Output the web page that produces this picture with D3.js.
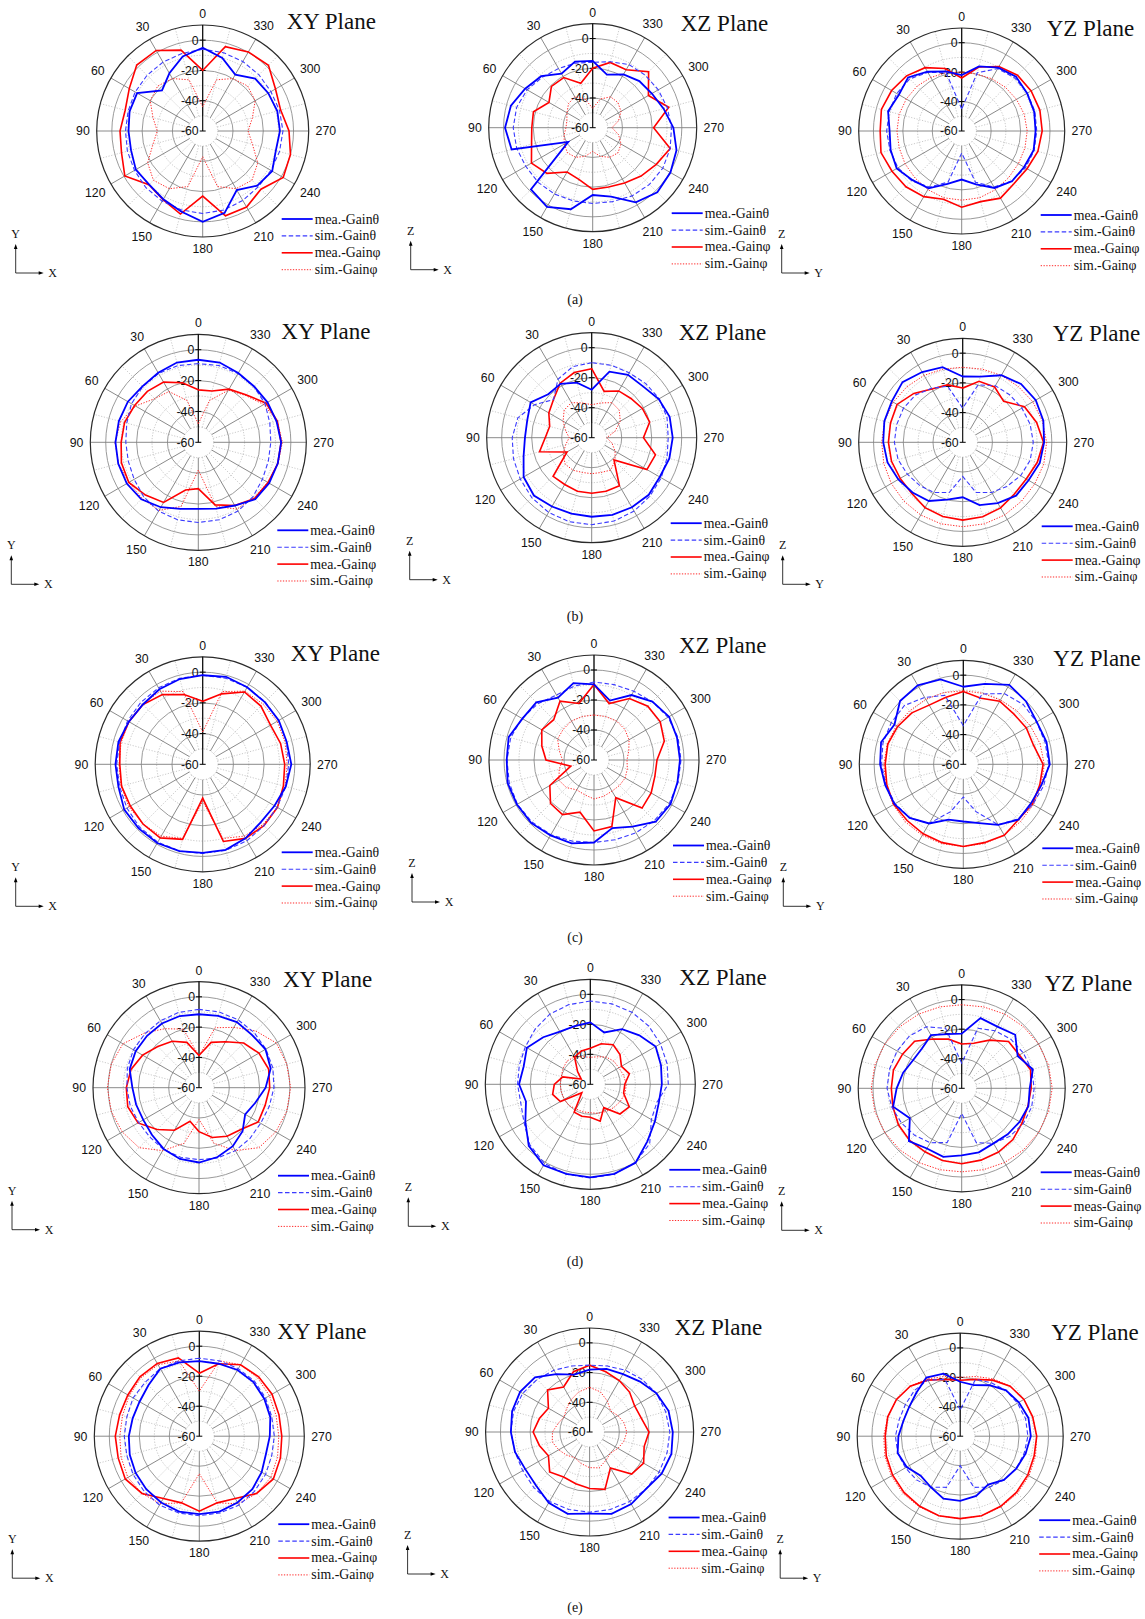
<!DOCTYPE html>
<html>
<head>
<meta charset="utf-8">
<script src="https://cdn.jsdelivr.net/npm/d3@7"></script>
<style>
  body { margin: 0; background: #fff; }
  svg { display: block; }
</style>
</head>
<body>
<svg id="fig" width="1145" height="1619"></svg>
<script>
// ---------- shared axis definitions ----------
const angles = d3.range(0, 360, 15);          // sampling angles (deg) for every series
const angleTicks = d3.range(0, 360, 30);      // labelled angular ticks
const radialTicks = [0, -20, -40, -60];       // labelled gain ticks (dB)
const legendLabels = ["mea.-Gainθ", "sim.-Gainθ", "mea.-Gainφ", "sim.-Gainφ"];
const legendLabelsMeas = ["meas-Gainθ", "sim-Gainθ", "meas-Gainφ", "sim-Gainφ"];
const subLabels = ["(a)", "(b)", "(c)", "(d)", "(e)"];

// ---------- (a) ----------
const aXY_meaTheta = [-5, -9, -16, -22, -10, -10, -11, -11, -9, -10, -8, -5, 0, -4, -15, -9, -7, -10, -9, -9, -10, -11, -17, -10];
const aXY_simTheta = [-6, -7, -7.5, -8, -8.5, -9, -9, -8.5, -8, -7, -6.5, -6, -5.5, -6, -7, -8, -8, -7.5, -7, -7.5, -8, -7.5, -7, -6.5];
const aXY_meaPhi   = [-20, -4.7, 1.4, 1.6, -4, -7, -5.4, -4.5, -0.6, -9.8, -7.6, -3.2, -17, -2, -2, -5.6, 1.4, 0, -3, -6.7, -4.5, 1.4, 0.3, -2.3];
const aXY_simPhi   = [-44, -25, -20, -18, -20, -26, -30, -26, -18, -14, -16, -22, -43, -22, -16, -14, -18, -26, -30, -26, -20, -18, -20, -25];

const aXZ_meaTheta = [-15, -14, -18, -11, -7.5, -3, -1, -3.5, -41, -1.2, 1.5, -3.2, -14.7, -12, -2, 1.5, 0.4, -1.6, -5.7, -10.6, -14, -15.6, -18.5, -23];
const aXZ_simTheta = [-16, -15, -14, -12, -9, -7, -6.5, -7, -8, -8, -8.5, -9, -9, -8.5, -7, -6, -5.5, -6, -7, -8, -9, -10, -11, -14];
const aXZ_meaPhi   = [-20, -29, -21, -20.7, -26, -18.7, -19, -17.4, -12.4, -16.5, -25.6, -24, -18.5, -18.7, -17, -14, -10.6, -6, -19, -7, -16.7, -6.8, -15, -14.5];
const aXZ_simPhi   = [-47, -40, -36, -37, -40, -42, -42, -40, -38, -36, -37, -40, -44, -40, -37, -36, -38, -42, -47, -42, -38, -36, -36, -40];

const aYZ_meaTheta = [-22, -18, -13.5, -8.5, -10.7, -8.2, -11, -10, -9, -12.8, -15, -22.8, -27, -22.4, -15.3, -11.7, -11, -9.4, -9.8, -9, -8.7, -7.8, -10.3, -14.6];
const aYZ_simTheta = [-45, -19, -14, -10, -9, -9, -9, -9.5, -10, -12, -16, -24, -45, -24, -16, -12, -10, -9, -9, -8.5, -8.5, -9, -11, -19];
const aYZ_meaPhi   = [-24, -16, -10.3, -7, -5, -3.5, -4.6, -3.2, -5.3, -6.4, -8.5, -12, -8.2, -10.3, -7.3, -9.6, -8.7, -6.4, -5.3, -5, -5.5, -6.4, -9.4, -15];
const aYZ_simPhi   = [-20, -19, -18, -17, -16.5, -16, -16, -16, -15.5, -15, -14, -13, -13, -13, -14, -15, -15.5, -15.5, -15.5, -16, -17, -18, -19, -20];

// ---------- (b) ----------
const bXY_meaTheta = [-6.5, -6.5, -8, -8.8, -7.3, -6.7, -6.3, -6.3, -6.5, -7.8, -11.4, -15.3, -16.8, -15.5, -12.7, -7.8, -7, -6.7, -6.3, -7.5, -8.2, -8.8, -8.2, -6.5];
const bXY_simTheta = [-9, -8.5, -8.5, -9, -10, -12, -13, -13, -12, -10, -8.5, -8, -8, -8, -8.5, -10, -12, -13, -13, -12, -10, -9, -8.5, -8.5];
const bXY_meaPhi   = [-26, -20, -15, -13.3, -12.3, -10.5, -10, -8.4, -8, -11.6, -15, -28, -30, -18, -12.7, -8.4, -7.8, -6.7, -6.3, -7, -9.3, -16.4, -20.2, -25.6];
const bXY_simPhi   = [-48, -32, -22, -20, -13, -8, -6, -6.5, -8, -8.5, -9, -17, -42, -17, -10, -9, -8, -6.5, -5.5, -7, -11, -17, -21, -32];

const bXZ_meaTheta = [-28, -22, -18.5, -19, -13, -15.5, -15.5, -13, -7.6, -5.5, -7, -7.6, -7.3, -6.7, -6.4, -6.2, -7.6, -6.4, -6, -6.2, -8.4, -11.6, -11.6, -14.4];
const bXZ_simTheta = [-10, -11, -15, -24, -16, -9, -7, -6, -5, -3.5, -2.5, -2, -2, -2.5, -3.5, -5, -6.5, -8, -9, -8, -8, -9, -10, -10];
const bXZ_meaPhi   = [-14, -15, -18, -24, -27, -31, -29, -24, -41, -23.6, -24, -23, -23, -23, -23, -39, -17.5, -16, -25.5, -20, -21, -23, -24, -28];
const bXZ_simPhi   = [-38, -36, -33, -34, -38, -42, -45, -42, -38, -35, -35, -36, -36, -36, -35, -38, -42, -46, -50, -44, -38, -34, -33, -36];

const bYZ_meaTheta = [-15.7, -7.6, -5.4, -2.7, -4.9, -5.4, -6.5, -7.6, -10, -12.2, -14.4, -20, -23, -16.2, -12.8, -9.2, -8.8, -6.3, -5.2, -3.8, -3.2, -4.5, -7.9, -14.2];
const bYZ_simTheta = [-37, -21, -18, -15, -14, -14, -14, -15, -17, -19, -21, -25, -37, -25, -21, -18, -15, -13, -12.5, -13, -14, -15, -16, -20];
const bYZ_meaPhi   = [-23.5, -20, -18.5, -13.5, -9, -9.7, -10, -10.4, -11.4, -11.4, -9.2, -8.3, -7.6, -8.1, -9, -10.8, -10.6, -8, -5.6, -8.5, -12, -21, -17, -17.5];
const bYZ_simPhi   = [-9.5, -9, -8, -7, -6, -5.5, -5.5, -5, -4.5, -4, -3.5, -3.2, -3.2, -3.2, -3.5, -4, -4, -3.5, -3.5, -4.5, -5.5, -7, -8, -9];

// ---------- (c) ----------
const cXY_meaTheta = [-2, -2.5, -3.6, -4.9, -4.5, -3.2, -3.2, -3.2, -1, -1, -0.8, -1.5, -2.3, -2.3, -4.3, -6.6, -6, -4, -2.3, -3.4, -2.8, -2.8, -2.1, -1];
const cXY_simTheta = [-2, -2, -2.5, -3, -3.5, -4, -4, -4, -3, -2, -1.5, -1.5, -2, -2, -2.5, -3.5, -4, -4, -4, -3.5, -3, -2.5, -2, -2];
const cXY_meaPhi   = [-19, -13, -7.5, -5, -4.5, -4.3, -6, -5.3, -5.6, -5, -4.7, -9.4, -38, -8, -4.3, -3.6, -3.8, -5.6, -6.6, -7.5, -9, -6.4, -5.6, -12.5];
const cXY_simPhi   = [-39, -11, -5, -4.5, -4.5, -5, -5.5, -5, -4.5, -5, -6, -10, -36, -10, -6, -4.5, -4, -4.5, -5, -4.5, -4, -4.5, -5, -11];

const cXZ_meaTheta = [-9.6, -7, -12, -5.6, -4.9, -1.1, -1.8, -0.4, -0.7, -0.7, -2, -2.4, -5, -13, -8.7, -1.8, -1.1, -2.4, -2.7, -2.7, -2.2, -5, -10, -19];
const cXZ_simTheta = [-8, -9, -10, -7, -4.5, -2.5, -2, -1.5, -1, -1.5, -2.5, -4, -5, -5, -4, -3, -2, -2, -2, -2, -3, -5, -7, -8];
const cXZ_meaPhi   = [-9.6, -21, -14.7, -22, -19.8, -24, -28, -44, -26, -19, -18, -24, -12.7, -14, -31, -14.7, -16, -18, -18, -11.5, -9, -9.3, -12.7, -21];
const cXZ_simPhi   = [-30, -30, -30, -31, -32, -36, -39, -36, -33, -34, -37, -36, -34, -35, -36, -36, -36, -37, -38, -36, -33, -31, -30, -30];

const cYZ_meaTheta = [-7.8, -0.9, 1.3, 0.2, -6.5, -2.7, -4, -5.6, -6.5, -9, -14, -21.5, -21.5, -19, -13, -7.4, -7.4, -5.6, -1.8, -2, -2.9, -0.2, 1.8, -4];
const cYZ_simTheta = [-34, -12, -8, -4, -4, -4, -5, -6, -7, -9, -14, -27, -38, -27, -13, -8, -6, -4, -2.5, -3, -3, -3, -5, -11];
const cYZ_meaPhi   = [-11, -13.5, -14, -11, -9, -7.4, -7.4, -6.7, -6, -6.5, -6, -5.4, -4.7, -5.4, -4.9, -7.4, -6.3, -6.7, -6.3, -11, -11, -12, -11, -14];
const cYZ_simPhi   = [-10.5, -10, -9.5, -9, -8, -7, -6.5, -6, -5.5, -5, -4.8, -4.7, -4.7, -4.8, -5, -5.5, -5.5, -5.5, -5.5, -6.5, -8, -9, -10, -10.5];

// ---------- (d) ----------
const dXY_meaTheta = [-11.5, -11, -11, -11.5, -11.7, -12.6, -16, -17, -17.5, -16, -13.3, -11.3, -10.6, -12.6, -15.4, -19.3, -24.8, -21.5, -16, -11, -9.3, -10.6, -10, -10.9];
const dXY_simTheta = [-8.3, -8.5, -9, -9.5, -10, -11, -12.4, -13, -14, -14, -13, -12.5, -12.5, -12, -12, -12.5, -13, -12, -10.5, -9.5, -9, -8.5, -8.3, -8.2];
const dXY_meaPhi   = [-38.7, -29, -24.6, -21.5, -17, -13.5, -12, -11.3, -13.5, -20.9, -27.6, -37, -31, -26, -23, -20.9, -14.8, -14.8, -13.3, -12.4, -14.3, -18.3, -25, -29];
const dXY_simPhi   = [-39, -20, -15, -9, -2, 0, 0.5, 0, -1.5, -4, -12, -22, -39, -22, -12, -4, -1.5, 0, 0.5, 0, -1, -7, -14, -19];

const dXZ_meaTheta = [-18.7, -19.8, -19.5, -15.6, -11.2, -14, -12.5, -15.6, -10, -2, 2.4, 1.8, 2, 1.8, 0.4, -6.2, -10.3, -12.7, -12.3, -11.2, -9.7, -13.8, -17.6, -24.2];
const dXZ_simTheta = [-4.5, -5, -6, -8, -10, -11, -11.5, -12, -9, -3, 1, 2, 2.5, 2, 0, -4, -13, -14, -8, -7, -6, -5, -4.5, -4.5];
const dXZ_meaPhi   = [-36, -37, -39, -48, -53, -41, -36, -34, -37, -52, -38.5, -38, -38, -34.5, -42, -32, -30, -37, -37, -33, -36, -32, -29.5, -32];
const dXZ_simPhi   = [-42, -41, -39, -38, -39, -40, -40, -40, -40, -40, -41, -41, -41, -40, -39, -38, -37, -36, -36, -37, -38, -38, -39, -41];

const dYZ_meaTheta = [-23, -22, -18.5, -22, -22, -19, -16, -12, -19.5, -9.5, -13, -12, -14.7, -15.2, -17, -16, -14.7, -13.3, -14, -10.2, -16.3, -8.8, -11.8, -10.9];
const dYZ_simTheta = [-43, -18, -12, -10, -9.5, -9.5, -9.5, -11, -13, -15, -17.5, -22, -43, -22, -17, -14, -12, -11, -11, -11, -12, -13, -15, -18];
const dYZ_meaPhi   = [-30, -25.6, -21.5, -15, -13.8, -12.2, -12.4, -11.8, -10.6, -10.2, -10.4, -9.5, -9, -9.7, -10.2, -11, -12.9, -13.6, -13, -11.8, -15, -15.2, -22.4, -28.5];
const dYZ_simPhi   = [-3.5, -3, -2, -1, 0, 0.8, 1.2, 0.8, 0, -1, -2, -3, -3.5, -3, -2, -1, 0, 0.8, 1.2, 0.8, 0, -1, -2, -3];

// ---------- (e) ----------
const eXY_meaTheta = [-10, -9, -8, -12, -14, -14, -13, -12, -11, -10, -9, -8, -8, -8, -9, -10, -12, -14, -13, -11, -10, -9, -9, -10];
const eXY_simTheta = [-8, -8, -8, -9, -9, -10, -10, -10, -9, -8, -7, -7, -7, -7, -7, -8, -9, -10, -10, -10, -9, -8, -8, -8];
const eXY_meaPhi   = [-18, -6, -4, -4, -5, -5, -4, -4, -3, -6, -12, -14, -10, -14, -12, -6, -3, -4, -5, -5, -4, -4, -5, -10];
const eXY_simPhi   = [-30, -8, -5, -5, -6, -7, -7, -6, -5, -6, -8, -14, -35, -14, -8, -6, -5, -6, -7, -7, -6, -5, -5, -8];

const eXZ_meaTheta = [-18, -20, -15, -8, -6, -6, -7, -8, -10, -9, -5, -3, -5, -3, -4, -6, -4, -3, -4, -5, -8, -12, -15, -16];
const eXZ_simTheta = [-15, -14, -12, -10, -8, -7, -7, -8, -8, -7, -6, -6, -6, -6, -6, -6, -6, -6, -6, -7, -8, -10, -12, -14];
const eXZ_meaPhi   = [-15, -18, -25, -20, -28, -25, -22, -25, -28, -22, -25, -24, -22, -20, -32, -20, -18, -22, -20, -24, -25, -22, -20, -18];
const eXZ_simPhi   = [-30, -32, -35, -38, -40, -38, -35, -34, -36, -38, -40, -38, -36, -35, -38, -40, -38, -36, -35, -36, -38, -40, -36, -32];

const eYZ_meaTheta = [-23, -16, -14, -18, -20, -20, -18, -16, -18, -22, -20, -16, -16, -18, -22, -18, -16, -14, -12, -12, -14, -16, -20, -24];
const eYZ_simTheta = [-42, -20, -16, -16, -17, -17, -16, -16, -17, -18, -20, -24, -40, -24, -20, -18, -16, -15, -14, -14, -15, -16, -18, -20];
const eYZ_meaPhi   = [-22, -20, -16, -12, -10, -9, -9, -8, -7, -6, -5, -4, -4, -4, -5, -6, -7, -8, -8, -9, -10, -12, -16, -20];
const eYZ_simPhi   = [-20, -18, -15, -12, -10, -9, -8, -7, -6, -5, -4.5, -4, -4, -4, -4.5, -5, -6, -7, -8, -9, -10, -12, -15, -18];

// ---------- series styling ----------
const seriesStyle = [
  { stroke: "#0000ff", width: 1.8, dash: null },
  { stroke: "#3b3bff", width: 1.1, dash: "4.5,2.5" },
  { stroke: "#ff0000", width: 1.6, dash: null },
  { stroke: "#ff2a2a", width: 1.0, dash: "1.3,1.5" }
];

// ---------- panel layout ----------
const panels = [
  { cx: 202.7, cy: 131,    R: 106,   title: "XY Plane", tdx: 84, tdy: -102, axes: ["Y", "X"], col: 0, labels: legendLabels, data: [aXY_meaTheta, aXY_simTheta, aXY_meaPhi, aXY_simPhi] },
  { cx: 592.7, cy: 127.7,  R: 104,   title: "XZ Plane", tdx: 88, tdy: -97,  axes: ["Z", "X"], col: 1, labels: legendLabels, data: [aXZ_meaTheta, aXZ_simTheta, aXZ_meaPhi, aXZ_simPhi] },
  { cx: 961.7, cy: 131,    R: 103,   title: "YZ Plane", tdx: 85, tdy: -95,  axes: ["Z", "Y"], col: 2, labels: legendLabels, data: [aYZ_meaTheta, aYZ_simTheta, aYZ_meaPhi, aYZ_simPhi] },

  { cx: 198.3, cy: 442.3,  R: 108,   title: "XY Plane", tdx: 83, tdy: -103, axes: ["Y", "X"], col: 0, labels: legendLabels, data: [bXY_meaTheta, bXY_simTheta, bXY_meaPhi, bXY_simPhi] },
  { cx: 591.7, cy: 437.7,  R: 105,   title: "XZ Plane", tdx: 87, tdy: -98,  axes: ["Z", "X"], col: 1, labels: legendLabels, data: [bXZ_meaTheta, bXZ_simTheta, bXZ_meaPhi, bXZ_simPhi] },
  { cx: 962.7, cy: 442.3,  R: 104,   title: "YZ Plane", tdx: 90, tdy: -101, axes: ["Z", "Y"], col: 2, labels: legendLabels, data: [bYZ_meaTheta, bYZ_simTheta, bYZ_meaPhi, bYZ_simPhi] },

  { cx: 202.7, cy: 764.3,  R: 107.5, title: "XY Plane", tdx: 88, tdy: -103, axes: ["Y", "X"], col: 0, labels: legendLabels, data: [cXY_meaTheta, cXY_simTheta, cXY_meaPhi, cXY_simPhi] },
  { cx: 594,   cy: 760,    R: 105,   title: "XZ Plane", tdx: 85, tdy: -107, axes: ["Z", "X"], col: 1, labels: legendLabels, data: [cXZ_meaTheta, cXZ_simTheta, cXZ_meaPhi, cXZ_simPhi] },
  { cx: 963.3, cy: 764.3,  R: 104,   title: "YZ Plane", tdx: 90, tdy: -98,  axes: ["Z", "Y"], col: 2, labels: legendLabels, data: [cYZ_meaTheta, cYZ_simTheta, cYZ_meaPhi, cYZ_simPhi] },

  { cx: 199,   cy: 1087.7, R: 106,   title: "XY Plane", tdx: 84, tdy: -101, axes: ["Y", "X"], col: 0, labels: legendLabels, data: [dXY_meaTheta, dXY_simTheta, dXY_meaPhi, dXY_simPhi] },
  { cx: 590.3, cy: 1084.3, R: 105,   title: "XZ Plane", tdx: 89, tdy: -99,  axes: ["Z", "X"], col: 1, labels: legendLabels, data: [dXZ_meaTheta, dXZ_simTheta, dXZ_meaPhi, dXZ_simPhi] },
  { cx: 961.7, cy: 1088.3, R: 103.5, title: "YZ Plane", tdx: 83, tdy: -97,  axes: ["Z", "X"], col: 2, labels: legendLabelsMeas, data: [dYZ_meaTheta, dYZ_simTheta, dYZ_meaPhi, dYZ_simPhi] },

  { cx: 199.3, cy: 1436.2, R: 105,   title: "XY Plane", tdx: 78, tdy: -97,  axes: ["Y", "X"], col: 0, labels: legendLabels, data: [eXY_meaTheta, eXY_simTheta, eXY_meaPhi, eXY_simPhi] },
  { cx: 589.6, cy: 1432,   R: 104,   title: "XZ Plane", tdx: 85, tdy: -97,  axes: ["Z", "X"], col: 1, labels: legendLabels, data: [eXZ_meaTheta, eXZ_simTheta, eXZ_meaPhi, eXZ_simPhi] },
  { cx: 960.2, cy: 1436.2, R: 103,   title: "YZ Plane", tdx: 91, tdy: -96,  axes: ["Z", "Y"], col: 2, labels: legendLabels, data: [eYZ_meaTheta, eYZ_simTheta, eYZ_meaPhi, eYZ_simPhi] }
];

const subLabelY = [304, 621, 942, 1266, 1612];

const legendRow0 = [88, 85.5, 84];
const axisX0 = [-187, -182, -180];

const svg = d3.select("#fig");
const SANS = "'Liberation Sans', Arial, sans-serif";
const SERIF = "'Liberation Serif', 'Times New Roman', serif";
const toRad = d => d * Math.PI / 180;

function drawPanel(p) {
  const g = svg.append("g").attr("transform", `translate(${p.cx},${p.cy})`);
  const r = d3.scaleLinear().domain([-60, 10]).range([0, p.R]).clamp(true);

  // grid circles: dotted every odd 10 dB, solid every 20 dB
  [-50, -30, -10].forEach(v => g.append("circle").attr("r", r(v))
    .attr("fill", "none").attr("stroke", "#b5b5b5").attr("stroke-width", 0.8).attr("stroke-dasharray", "1.2,1.6"));
  [-40, -20, 0].forEach(v => g.append("circle").attr("r", r(v))
    .attr("fill", "none").attr("stroke", "#8f8f8f").attr("stroke-width", 0.9));

  // spokes from the -50 dB ring outward
  angles.forEach(a => {
    const major = a % 30 === 0;
    const s = Math.sin(toRad(a)), c = Math.cos(toRad(a));
    g.append("line")
      .attr("x1", -r(-50) * s).attr("y1", -r(-50) * c)
      .attr("x2", -r(10) * s).attr("y2", -r(10) * c)
      .attr("stroke", major ? "#7d7d7d" : "#bdbdbd")
      .attr("stroke-width", major ? 0.9 : 0.8)
      .attr("stroke-dasharray", major ? null : "1.2,1.6");
  });

  // outer frame
  g.append("circle").attr("r", r(10)).attr("fill", "none").attr("stroke", "#2a2a2a").attr("stroke-width", 1.2);

  // radial axis along 0°
  g.append("line").attr("x1", 0).attr("y1", 0).attr("x2", 0).attr("y2", -r(10))
    .attr("stroke", "#000").attr("stroke-width", 1.1);
  radialTicks.forEach(v => {
    g.append("line").attr("x1", -3).attr("x2", 3).attr("y1", -r(v)).attr("y2", -r(v))
      .attr("stroke", "#000").attr("stroke-width", 1);
    g.append("text").attr("x", -4).attr("y", -r(v) + 4.4)
      .attr("text-anchor", "end").attr("font-family", SANS).attr("font-size", 12.3).attr("fill", "#111")
      .text(v);
  });

  // angular labels
  angleTicks.forEach(a => {
    const s = Math.sin(toRad(a)), c = Math.cos(toRad(a));
    const txt = String(a);
    const w = txt.length * 6.8, h = 9;
    const rr = r(10) + 7 + Math.abs(s) * w / 2 + Math.abs(c) * h / 2;
    g.append("text").attr("x", -rr * s).attr("y", -rr * c + 4.4)
      .attr("text-anchor", "middle").attr("font-family", SANS).attr("font-size", 12.3).attr("fill", "#111")
      .text(txt);
  });

  // series (drawn back to front: sim φ, mea φ, sim θ, mea θ)
  const line = d3.lineRadial()
    .angle(d => -toRad(d.a))
    .radius(d => r(d.v))
    .curve(d3.curveLinearClosed);
  [3, 2, 1, 0].forEach(i => {
    const st = seriesStyle[i];
    const pts = angles.map((a, k) => ({ a, v: p.data[i][k] }));
    g.append("path").attr("d", line(pts))
      .attr("fill", "none").attr("stroke", st.stroke).attr("stroke-width", st.width)
      .attr("stroke-linejoin", "miter")
      .attr("stroke-dasharray", st.dash);
  });

  // title
  g.append("text").attr("x", p.tdx).attr("y", p.tdy)
    .attr("font-family", SERIF).attr("font-size", 23).attr("fill", "#111")
    .text(p.title);

  // legend
  const ly0 = legendRow0[p.col];
  p.labels.forEach((lab, i) => {
    const st = seriesStyle[i];
    const y = ly0 + i * 16.9;
    g.append("line").attr("x1", 79).attr("x2", 110).attr("y1", y).attr("y2", y)
      .attr("stroke", st.stroke).attr("stroke-width", st.width).attr("stroke-dasharray", st.dash);
    g.append("text").attr("x", 112).attr("y", y + 4.5)
      .attr("font-family", SERIF).attr("font-size", 13.8).attr("fill", "#111")
      .text(lab);
  });

  // coordinate indicator
  const x0 = axisX0[p.col], yTop = 113, yBot = 142, len = 28;
  g.append("line").attr("x1", x0).attr("x2", x0).attr("y1", yBot).attr("y2", yTop + 3)
    .attr("stroke", "#000").attr("stroke-width", 0.8);
  g.append("path").attr("d", `M${x0},${yTop} L${x0 - 1.8},${yTop + 5} L${x0 + 1.8},${yTop + 5} Z`).attr("fill", "#000");
  g.append("line").attr("x1", x0).attr("x2", x0 + len - 3).attr("y1", yBot).attr("y2", yBot)
    .attr("stroke", "#000").attr("stroke-width", 0.8);
  g.append("path").attr("d", `M${x0 + len},${yBot} L${x0 + len - 5},${yBot - 1.8} L${x0 + len - 5},${yBot + 1.8} Z`).attr("fill", "#000");
  g.append("text").attr("x", x0).attr("y", yTop - 6).attr("text-anchor", "middle")
    .attr("font-family", SERIF).attr("font-size", 12).attr("fill", "#111").text(p.axes[0]);
  g.append("text").attr("x", x0 + len + 9).attr("y", yBot + 4).attr("text-anchor", "middle")
    .attr("font-family", SERIF).attr("font-size", 12).attr("fill", "#111").text(p.axes[1]);
}

panels.forEach(drawPanel);

subLabels.forEach((s, i) => {
  svg.append("text").attr("x", 575).attr("y", subLabelY[i]).attr("text-anchor", "middle")
    .attr("font-family", SERIF).attr("font-size", 14).attr("fill", "#111").text(s);
});
</script>
</body>
</html>
